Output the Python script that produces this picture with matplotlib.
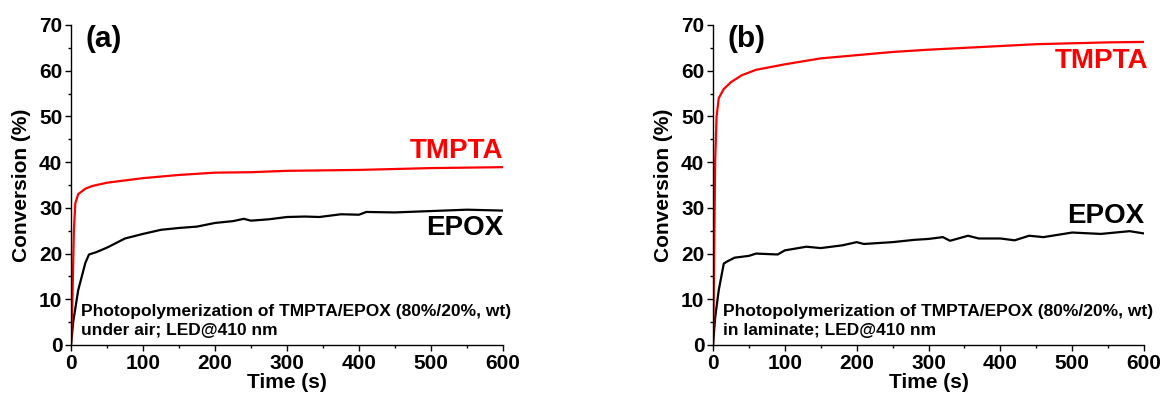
import matplotlib
matplotlib.use("Agg")
import matplotlib.pyplot as plt
from matplotlib.ticker import MultipleLocator

plt.rcParams["font.family"] = ["Liberation Sans", "DejaVu Sans"]
plt.rcParams["font.weight"] = "bold"

# (a) under air
t_a_tmpta = [0, 2, 4, 6, 10, 20, 30, 50, 75, 100, 150, 200, 250, 300, 350, 400, 450, 500, 550, 600]
c_a_tmpta = [0, 10, 25, 31, 33, 34.2, 34.8, 35.5, 36, 36.5, 37.2, 37.7, 37.8, 38.1, 38.2, 38.3, 38.5, 38.7, 38.8, 38.9]
t_a_epox = [0, 3, 10, 20, 25, 35, 50, 75, 100, 125, 150, 175, 200, 225, 240, 250, 275, 300, 325,
            345, 375, 400, 410, 450, 500, 550, 600]
c_a_epox = [0, 5, 12, 18, 19.8, 20.3, 21.3, 23.3, 24.3, 25.2, 25.6, 25.9, 26.7, 27.1, 27.6, 27.2, 27.5,
            28, 28.1, 28.0, 28.6, 28.5, 29.1, 29.0, 29.3, 29.6, 29.4]

# (b) in laminate
t_b_tmpta = [0, 1, 2, 3, 5, 8, 15, 25, 40, 60, 100, 150, 200, 250, 300, 350, 400, 450, 500, 550, 600]
c_b_tmpta = [0, 10, 25, 40, 50, 54, 56, 57.5, 59, 60.2, 61.4, 62.7, 63.4, 64.1, 64.6, 65, 65.4, 65.8,
             66.0, 66.2, 66.3]
t_b_epox = [0, 3, 8, 15, 20, 30, 50, 60, 90, 100, 130, 150, 180, 200, 210, 250, 280, 300, 320, 330,
            355, 370, 400, 420, 440, 460, 500, 540, 580, 600]
c_b_epox = [0, 6, 12, 17.8, 18.3, 19.1, 19.5, 20, 19.8, 20.7, 21.5, 21.2, 21.8, 22.5, 22.1, 22.5, 23,
            23.2, 23.6, 22.8, 23.9, 23.3, 23.3, 22.9, 23.9, 23.6, 24.6, 24.3, 24.9, 24.4]

panels = [
    ("(a)", t_a_tmpta, c_a_tmpta, t_a_epox, c_a_epox, (601, 40.9), (601, 24.1),
     "Photopolymerization of TMPTA/EPOX (80%/20%, wt)\nunder air; LED@410 nm"),
    ("(b)", t_b_tmpta, c_b_tmpta, t_b_epox, c_b_epox, (606, 60.5), (601, 26.75),
     "Photopolymerization of TMPTA/EPOX (80%/20%, wt)\nin laminate; LED@410 nm"),
]

W, H = 1165, 396
fig = plt.figure(figsize=(W / 100, H / 100), dpi=100)
lefts = [71, 713]
widths = [432, 431]

for i, (tag, tt, ct, te, ce, pos_t, pos_e, note) in enumerate(panels):
    ax = fig.add_axes([lefts[i] / W, (H - 345) / H, widths[i] / W, 320 / H])
    ax.plot(te, ce, color="black", lw=1.6)
    ax.plot(tt, ct, color="red", lw=1.6)
    ax.set_xlim(0, 600)
    ax.set_ylim(0, 70)
    ax.spines["top"].set_visible(False)
    ax.spines["right"].set_visible(False)
    for s in ("left", "bottom"):
        ax.spines[s].set_linewidth(1.0)
    ax.xaxis.set_major_locator(MultipleLocator(100))
    ax.xaxis.set_minor_locator(MultipleLocator(50))
    ax.yaxis.set_major_locator(MultipleLocator(10))
    ax.yaxis.set_minor_locator(MultipleLocator(5))
    ax.tick_params(which="major", direction="out", length=4.3, width=1, labelsize=15, pad=2)
    ax.tick_params(which="minor", direction="out", length=2.5, width=1)
    for lab in ax.get_xticklabels() + ax.get_yticklabels():
        lab.set_fontweight("bold")
    ax.set_xlabel("Time (s)", fontsize=15, fontweight="bold", labelpad=0)
    ax.set_ylabel("Conversion (%)", fontsize=15, fontweight="bold", labelpad=6)
    ax.text(20.5, 70, tag, fontsize=21.5, fontweight="bold", va="top")
    ax.text(pos_t[0], pos_t[1], "TMPTA", color="red", fontsize=20, fontweight="bold", ha="right", va="baseline")
    ax.text(pos_e[0], pos_e[1], "EPOX", color="black", fontsize=20, fontweight="bold", ha="right", va="baseline")
    ax.text(14.5, 2.2, note, fontsize=12.5, fontweight="bold", va="baseline", linespacing=1.35)
    ax.patch.set_alpha(0)

fig.savefig("out.png", dpi=100)
